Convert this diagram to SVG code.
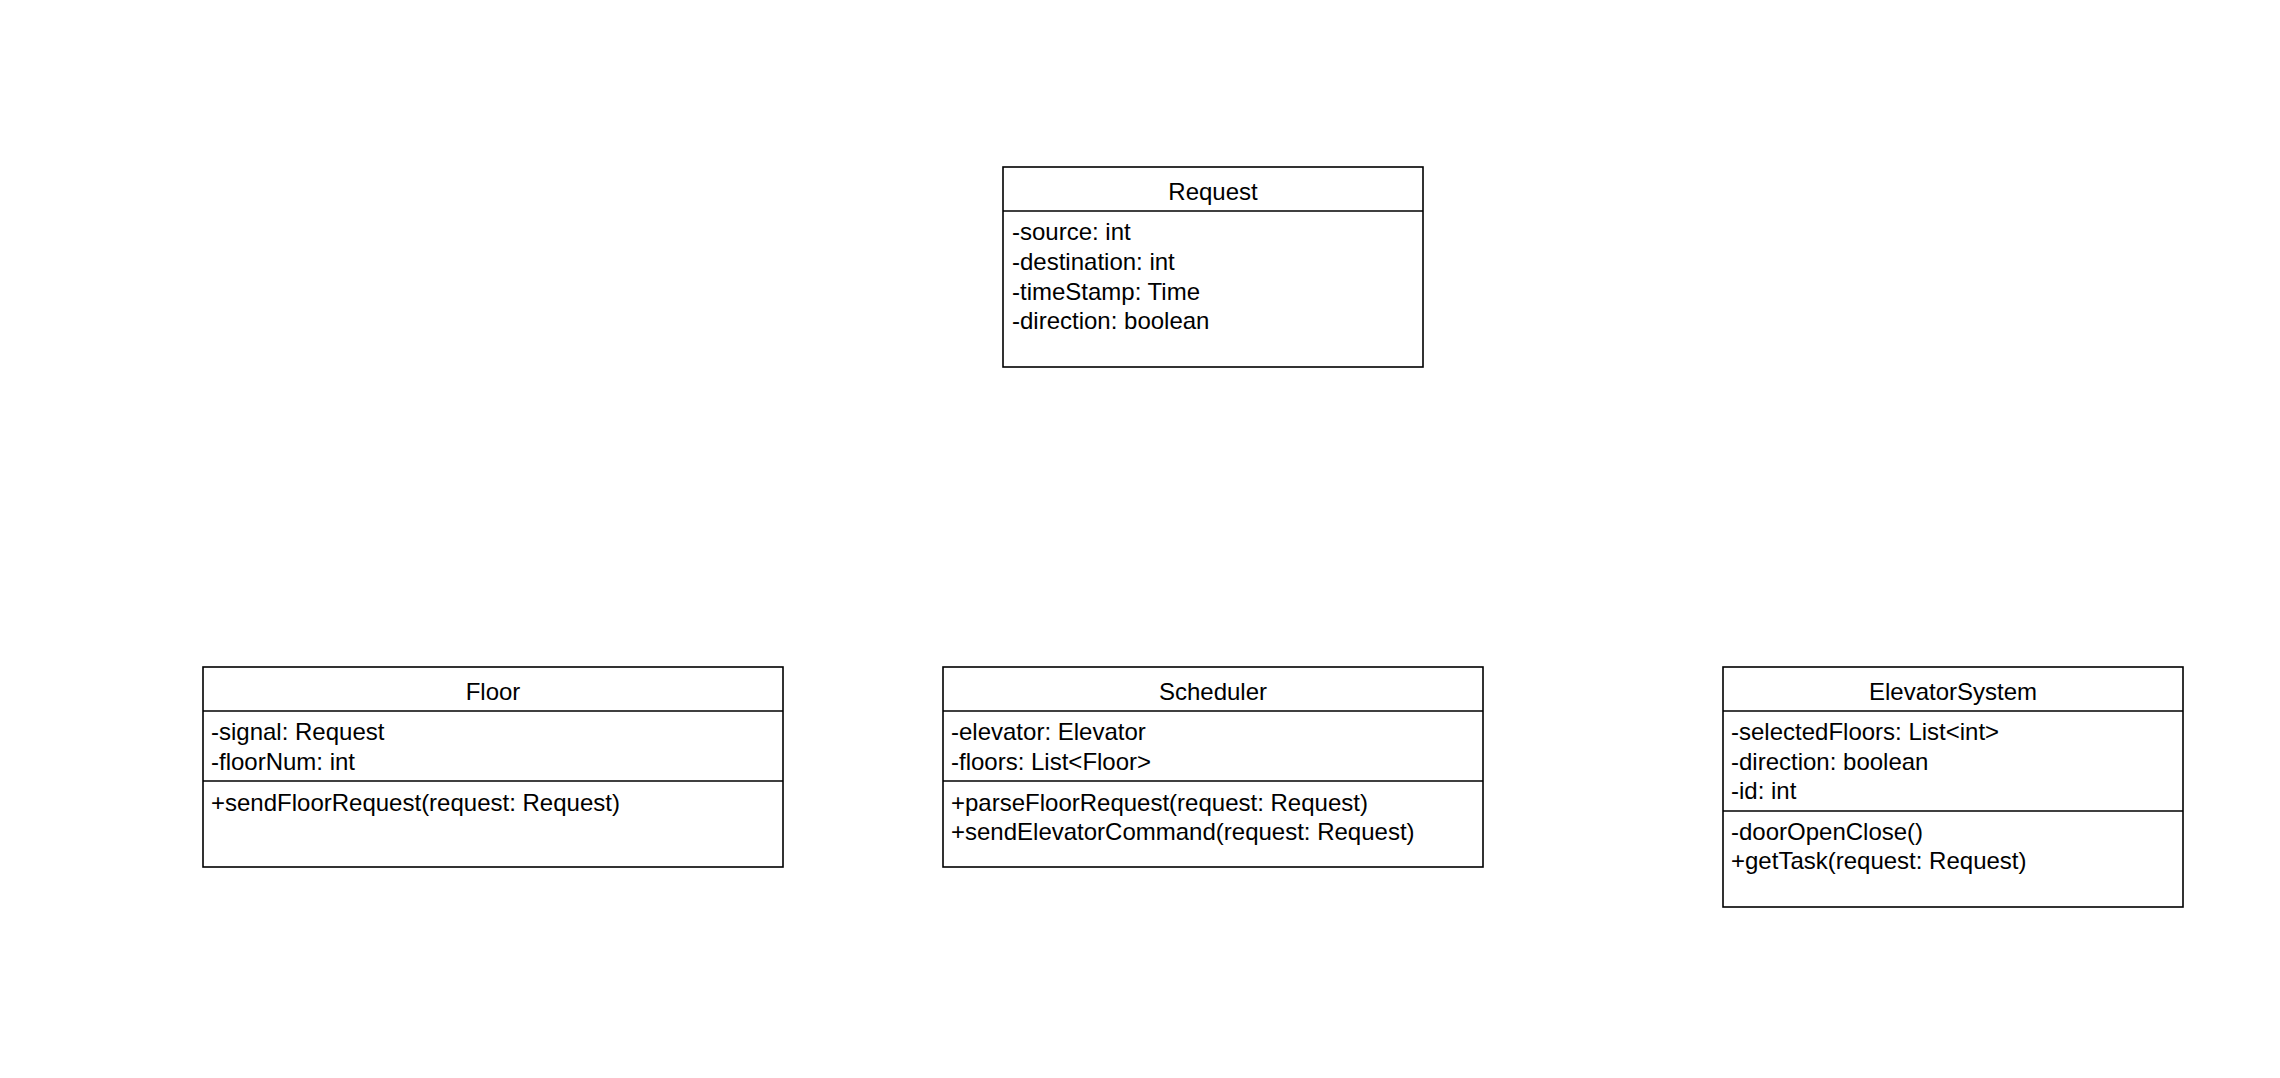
<svg xmlns="http://www.w3.org/2000/svg" width="2280" height="1078" viewBox="0 0 2280 1078">
<style>
.box{fill:#fff;stroke:#000;stroke-width:1.6}
.div{stroke:#000;stroke-width:1.6;fill:none}
text{font-family:"Liberation Sans",Arial,Helvetica,sans-serif;font-size:24px;fill:#000}
.title{text-anchor:middle}
</style>
<rect width="2280" height="1078" fill="#fff"/>
<g id="connectors"></g>
<g id="Request">
<rect class="box" x="1003" y="167" width="420" height="200"/>
<line class="div" x1="1003" y1="211" x2="1423" y2="211"/>
<text class="title" x="1213" y="200">Request</text>
<text x="1012" y="240">-source: int</text>
<text x="1012" y="270">-destination: int</text>
<text x="1012" y="300">-timeStamp: Time</text>
<text x="1012" y="329">-direction: boolean</text>
</g>
<g id="Floor">
<rect class="box" x="203" y="667" width="580" height="200"/>
<line class="div" x1="203" y1="711" x2="783" y2="711"/>
<line class="div" x1="203" y1="781" x2="783" y2="781"/>
<text class="title" x="493" y="700">Floor</text>
<text x="211" y="740">-signal: Request</text>
<text x="211" y="770">-floorNum: int</text>
<text x="211" y="811">+sendFloorRequest(request: Request)</text>
</g>
<g id="Scheduler">
<rect class="box" x="943" y="667" width="540" height="200"/>
<line class="div" x1="943" y1="711" x2="1483" y2="711"/>
<line class="div" x1="943" y1="781" x2="1483" y2="781"/>
<text class="title" x="1213" y="700">Scheduler</text>
<text x="951" y="740">-elevator: Elevator</text>
<text x="951" y="770">-floors: List&lt;Floor&gt;</text>
<text x="951" y="811">+parseFloorRequest(request: Request)</text>
<text x="951" y="840">+sendElevatorCommand(request: Request)</text>
</g>
<g id="ElevatorSystem">
<rect class="box" x="1723" y="667" width="460" height="240"/>
<line class="div" x1="1723" y1="711" x2="2183" y2="711"/>
<line class="div" x1="1723" y1="811" x2="2183" y2="811"/>
<text class="title" x="1953" y="700">ElevatorSystem</text>
<text x="1731" y="740">-selectedFloors: List&lt;int&gt;</text>
<text x="1731" y="770">-direction: boolean</text>
<text x="1731" y="799">-id: int</text>
<text x="1731" y="840">-doorOpenClose()</text>
<text x="1731" y="869">+getTask(request: Request)</text>
</g>
</svg>
